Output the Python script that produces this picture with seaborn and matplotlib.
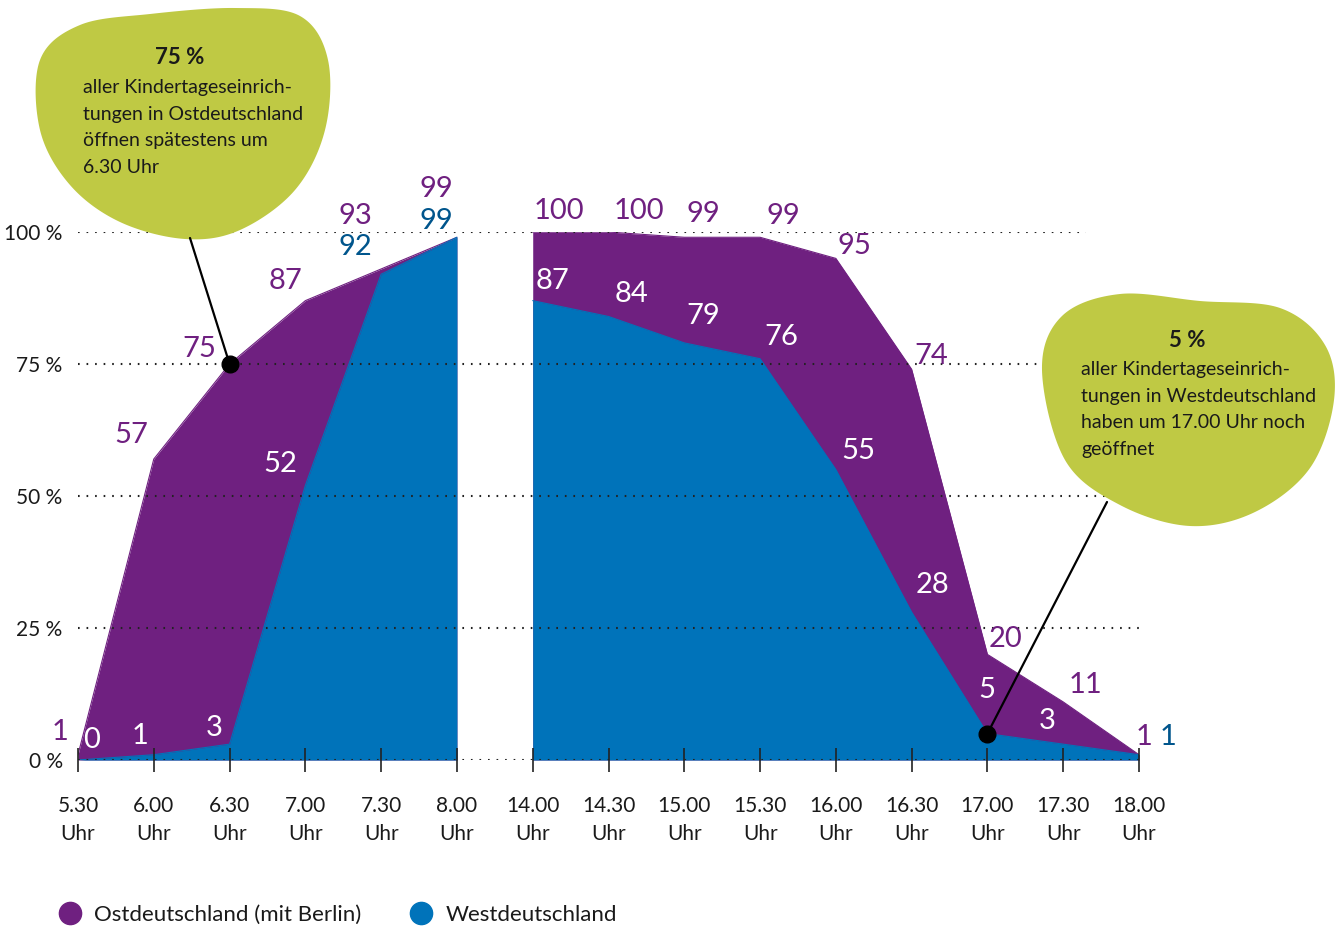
import numpy as np
import pandas as pd
import matplotlib.pyplot as plt
import seaborn as sns
from matplotlib.lines import Line2D
from matplotlib.patches import Polygon

# Data
times = ["5.30", "6.00", "6.30", "7.00", "7.30", "8.00", "14.00", "14.30",
         "15.00", "15.30", "16.00", "16.30", "17.00", "17.30", "18.00"]
ost = [1, 57, 75, 87, 93, 99, 100, 100, 99, 99, 95, 74, 20, 11, 1]
west = [0, 1, 3, 52, 92, 99, 87, 84, 79, 76, 55, 28, 5, 3, 1]
morning = list(range(0, 6))
afternoon = list(range(6, 15))
yticks = [0, 25, 50, 75, 100]

# Colors
PURPLE = "#6F2080"
BLUE = "#0073BA"
DARKBLUE = "#00558C"
GREEN = "#BFC944"
TEXT = "#1a1a1a"

# label offsets in pixels (dx, dy, dy up)
ost_off = [(-18, 23), (-23, 24), (-30, 15), (-20, 20), (-26, 53), (-21, 48),
           (26, 21), (30, 21), (19, 23), (23, 21), (19, 12), (20, 13),
           (18, 15), (22, 17), (5, 18)]
west_off = [(14, 20), (-14, 19), (-15, 16), (-25, 21), (-26, 27), (-21, 16),
            (20, 20), (23, 22), (19, 27), (21, 22), (22, 19), (21, 27),
            (-1, 44), (-16, 23), (29, 18)]
west_lab_col = ["white"] * 15
for i in (4, 5, 14):
    west_lab_col[i] = DARKBLUE

sns.set_theme(style="white")
plt.rcParams["font.family"] = ["Lato", "DejaVu Sans"]

W, H = 1339, 930
fig = plt.figure(figsize=(W / 100, H / 100), dpi=100)
ax = fig.add_axes([78 / W, 1 - 760 / H, (1139 - 78) / W, 528 / H])

df = pd.DataFrame({"x": range(len(times)), "ost": ost, "west": west})

for seg in (morning, afternoon):
    d = df.iloc[seg]
    ax.fill_between(d["x"], 0, d["ost"], color=PURPLE, lw=0, zorder=1)
    sns.lineplot(data=d, x="x", y="ost", color=PURPLE, lw=0.8, ax=ax, zorder=1)
    ax.fill_between(d["x"], 0, d["west"], color=BLUE, lw=0, zorder=1.5)
    sns.lineplot(data=d, x="x", y="west", color=BLUE, lw=0.8, ax=ax, zorder=1.5)

# dotted grid
for y in yticks:
    xmax = 13.3 if y == 100 else 14
    ax.hlines(y, 0, xmax, colors="#222222", lw=1.5, linestyles=(0, (0.8, 3.3)),
              zorder=3)

# tick marks across the baseline
ax.vlines(range(len(times)), -2.3, 2.3, colors="#222222", lw=1.2, zorder=3,
          clip_on=False)

ax.set_xlim(0, 14)
ax.set_ylim(0, 100)
for s in ax.spines.values():
    s.set_visible(False)
ax.set_xticks(range(len(times)))
ax.set_xticklabels([t + "\nUhr" for t in times], fontsize=15, color=TEXT,
                   linespacing=1.5)
ax.tick_params(axis="x", length=0, pad=26)
ax.set_yticks(yticks)
ax.set_yticklabels([f"{v} %" for v in yticks], fontsize=15, color=TEXT)
ax.tick_params(axis="y", length=0, pad=11)
ax.set_xlabel("")
ax.set_ylabel("")

# value labels
for i, v in enumerate(ost):
    ax.annotate(str(v), (i, v), xytext=ost_off[i], textcoords="offset pixels",
                ha="center", va="center", fontsize=21, color=PURPLE,
                annotation_clip=False, zorder=5)
for i, v in enumerate(west):
    ax.annotate(str(v), (i, v), xytext=west_off[i], textcoords="offset pixels",
                ha="center", va="center", fontsize=21, color=west_lab_col[i],
                annotation_clip=False, zorder=5)

# overlay in pixel coords for blobs
ov = fig.add_axes([0, 0, 1, 1], zorder=5)
ov.set_xlim(0, W)
ov.set_ylim(H, 0)
ov.axis("off")


def blob(points, n=30):
    p = np.array(points, dtype=float)
    out = []
    m = len(p)
    for i in range(m):
        p0, p1, p2, p3 = p[i - 1], p[i], p[(i + 1) % m], p[(i + 2) % m]
        for t in np.linspace(0, 1, n, endpoint=False):
            t2, t3 = t * t, t * t * t
            out.append(0.5 * ((2 * p1) + (-p0 + p2) * t
                              + (2 * p0 - 5 * p1 + 4 * p2 - p3) * t2
                              + (-p0 + 3 * p1 - 3 * p2 + p3) * t3))
    return np.array(out)


left_blob = [(40, 60), (80, 25), (150, 14), (235, 8), (300, 16), (328, 60),
             (325, 130), (295, 190), (240, 230), (185, 239), (120, 222),
             (70, 185), (40, 130)]
right_blob = [(1042, 370), (1062, 316), (1120, 294), (1200, 301), (1280, 308),
              (1325, 345), (1334, 400), (1310, 468), (1255, 512), (1190, 526),
              (1120, 505), (1065, 460)]
ov.add_patch(Polygon(blob(left_blob), closed=True, color=GREEN, lw=0))
ov.add_patch(Polygon(blob(right_blob), closed=True, color=GREEN, lw=0))


def to_px(x, y):
    px, py = ax.transData.transform((x, y))
    return px, H - py


for (bx, by), (dx, dy) in [((190, 238), (2, ost[2])), ((1107, 502), (12, west[12]))]:
    px, py = to_px(dx, dy)
    ov.plot([bx, px], [by, py], color="black", lw=1.6)
    ov.plot(px, py, "o", color="black", ms=12)

ov.text(180, 57, "75 %", ha="center", va="center", fontsize=16,
        fontweight="bold", color=TEXT)
ov.text(83, 79, "aller Kindertageseinrich-\ntungen in Ostdeutschland\n"
        "öffnen spätestens um\n6.30 Uhr", ha="left", va="top", fontsize=14,
        color=TEXT, linespacing=1.68)
ov.text(1187, 340, "5 %", ha="center", va="center", fontsize=16,
        fontweight="bold", color=TEXT)
ov.text(1081, 361, "aller Kindertageseinrich-\ntungen in Westdeutschland\n"
        "haben um 17.00 Uhr noch\ngeöffnet", ha="left", va="top", fontsize=14,
        color=TEXT, linespacing=1.68)

# legend
handles = [Line2D([], [], marker="o", ls="", ms=16, color=PURPLE),
           Line2D([], [], marker="o", ls="", ms=16, color=BLUE)]
fig.legend(handles, ["Ostdeutschland (mit Berlin)", "Westdeutschland"],
           loc="center left", bbox_to_anchor=(58.9 / W, 1 - 915 / H), ncol=2,
           frameon=False, fontsize=16, handlelength=1, handletextpad=0.58,
           columnspacing=2.2, borderpad=0, borderaxespad=0, labelcolor=TEXT)

fig.savefig("out.png", dpi=100)
